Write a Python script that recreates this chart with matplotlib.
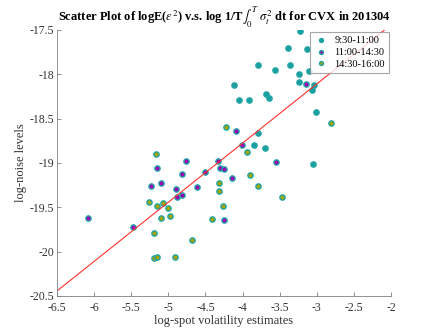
import matplotlib
matplotlib.use("Agg")
import matplotlib.pyplot as plt

plt.rcParams['font.family'] = ['Liberation Serif', 'DejaVu Serif']
plt.rcParams['mathtext.fontset'] = 'stix'

# 9:30-11:00
x_morning = [-3.225, -3.391, -3.127, -3.795, -3.558, -3.356, -3.243, -3.104, -4.111, -3.235,
             -3.040, -3.063, -4.043, -3.912, -3.687, -3.639, -3.009, -3.787, -3.841, -3.701, -3.046]
y_morning = [-17.51, -17.709, -17.721, -17.901, -17.950, -17.901, -18.002, -17.968, -18.119, -18.089,
             -18.123, -18.182, -18.288, -18.288, -18.224, -18.266, -18.430, -18.663, -18.802, -18.836, -19.012]
# 11:00-14:30
x_midday = [-3.140, -4.092, -4.007, -6.078, -5.480, -5.148, -5.229, -5.098, -4.757, -4.815,
            -4.892, -4.883, -4.811, -4.509, -4.609, -4.334, -4.299, -4.245, -3.553, -4.146, -4.249]
y_midday = [-18.108, -18.644, -18.795, -19.624, -19.722, -19.054, -19.264, -19.223, -18.982, -19.125,
            -19.294, -19.384, -19.358, -19.106, -19.268, -18.979, -19.054, -19.065, -18.990, -19.170, -19.640]
# 14:30-16:00
x_close = [-4.218, -2.811, -3.935, -5.162, -5.256, -5.156, -5.067, -5.004, -5.094, -4.977, -5.189,
           -4.677, -5.193, -5.148, -4.910, -3.895, -4.321, -4.313, -3.787, -3.464, -4.263, -4.411]
y_close = [-18.599, -18.554, -18.881, -18.896, -19.437, -19.482, -19.448, -19.511, -19.621, -19.595, -19.789,
           -19.868, -20.071, -20.060, -20.056, -19.140, -19.230, -19.320, -19.264, -19.387, -19.489, -19.635]

fit_x = [-6.5, -2.0]
fit_y = [-20.443, -17.444]

labels = ['9:30-11:00', '11:00-14:30', '14:30-16:00']
x_ticks = [-6.5, -6, -5.5, -5, -4.5, -4, -3.5, -3, -2.5, -2]
y_ticks = [-20.5, -20, -19.5, -19, -18.5, -18, -17.5]

edge = '#22a5a5'
faces = ['#1a9e9e', '#a000b0', '#a3a300']

fig = plt.figure(figsize=(4.32, 3.34), dpi=100)
ax = fig.add_axes([0.132, 0.1138, 0.773, 0.797])

for xs, ys, fc, lab in zip([x_morning, x_midday, x_close], [y_morning, y_midday, y_close], faces, labels):
    ax.plot(xs, ys, linestyle='none', marker='o', markersize=3.8, markerfacecolor=fc,
            markeredgecolor=edge, markeredgewidth=1.0, label=lab)

ax.plot(fit_x, fit_y, color='#ff3030', linewidth=0.8)

ax.set_xlim(-6.5, -2)
ax.set_ylim(-20.5, -17.5)
ax.set_xticks(x_ticks)
ax.set_yticks(y_ticks)
ax.set_xticklabels([f'{t:g}' for t in x_ticks])
ax.set_yticklabels([f'{t:g}' for t in y_ticks])
ax.tick_params(direction='in', length=3, width=0.6, color='#808080', labelsize=8.5,
               labelcolor='#333333')
ax.tick_params(axis='x', pad=4)
ax.tick_params(axis='y', pad=2)
for s in ['top', 'right']:
    ax.spines[s].set_visible(False)
for s in ['left', 'bottom']:
    ax.spines[s].set_color('#808080')
    ax.spines[s].set_linewidth(0.6)

ax.set_xlabel('log-spot volatility estimates', fontsize=9, color='#333333', labelpad=1)
ax.set_ylabel('log-noise levels', fontsize=9, color='#333333', labelpad=2)
ax.set_title(r'Scatter Plot of logE($\epsilon^2$) v.s. log 1/T$\int_0^T$ $\sigma_t^2$ dt for CVX in 201304',
             fontsize=9, fontweight='bold', pad=5)

leg = ax.legend(loc='upper right', fontsize=7.5, frameon=True, fancybox=False, borderaxespad=0.2,
                handletextpad=0.6, markerscale=0.75, borderpad=0.4, labelspacing=0.25,
                handlelength=1.3)
leg.get_frame().set_edgecolor('#909090')
leg.get_frame().set_linewidth(0.8)

fig.savefig('out.png', dpi=100)
